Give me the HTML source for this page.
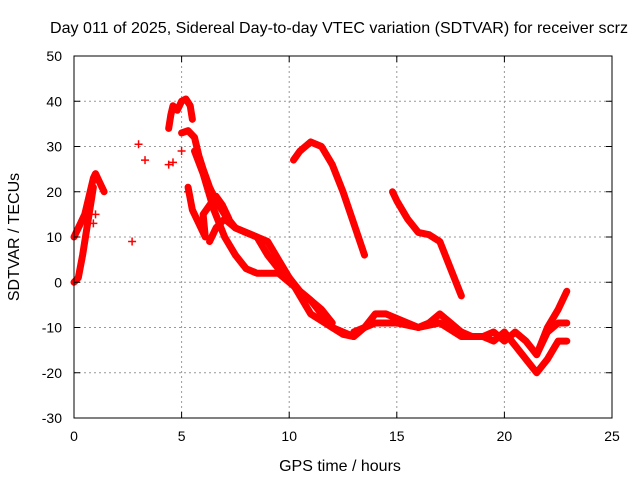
<!DOCTYPE html>
<html><head><meta charset="utf-8"><style>
body{margin:0;background:#fff;}
svg text{font-family:"Liberation Sans",sans-serif;font-size:14px;fill:#000;}
svg text.t{font-size:16px;}
</style></head><body>
<svg id="chart" width="640" height="480">
<rect width="640" height="480" fill="#fff"/>
<g id="grid"></g>
<g id="marks"></g>
<rect x="74" y="56" width="538" height="362" fill="none" stroke="#000" stroke-width="1"/>
<g id="ticks"></g>
<text class="t" x="339" y="33" text-anchor="middle" textLength="578" lengthAdjust="spacingAndGlyphs">Day 011 of 2025, Sidereal Day-to-day VTEC variation (SDTVAR) for receiver scrz</text>
<text class="t" x="340" y="471" text-anchor="middle">GPS time / hours</text>
<text class="t" transform="translate(19,237) rotate(-90)" text-anchor="middle">SDTVAR / TECUs</text>
</svg>
<script>
const xTicks=[0,5,10,15,20,25];
const yTicks=[-30,-20,-10,0,10,20,30,40,50];
const trackEarlyUpper=[[0,10],[0.2,12],[0.5,15],[0.7,19],[0.9,23],[1.0,24],[1.2,22],[1.4,20]];
const trackEarlyLower=[[0,0],[0.2,1],[0.4,6],[0.6,12],[0.8,18],[0.9,21]];
const isolated=[[2.7,9],[3.0,30.5],[3.3,27],[4.4,26],[4.6,26.5],[5.0,29],[0.9,13],[1.0,15],[5.3,20]];
const trackPeak=[[4.4,34],[4.5,37],[4.6,39],[4.8,38],[5.0,40],[5.2,40.5],[5.4,39],[5.5,36]];
const trackMain=[[5.0,33],[5.3,33.5],[5.6,32],[5.8,28],[6.0,25],[6.3,21],[6.6,18],[7.0,15],[7.5,12],[8.0,11],[8.5,10],[9,6],[9.5,3],[10,1],[10.5,-2],[11,-4],[11.5,-7],[12,-10],[12.5,-11.5],[13,-12],[13.5,-10],[14,-7],[14.5,-7],[15,-8],[15.5,-9],[16,-10],[16.5,-9],[17,-7],[17.5,-9],[18,-11],[18.5,-12],[19,-12],[19.5,-11],[20,-13],[20.5,-11],[21,-13],[21.5,-16],[22,-11],[22.5,-9],[22.9,-9]];
const trackBranch=[[5.3,21],[5.5,16],[5.8,13],[6.1,10],[6.0,15],[6.3,17],[6.6,19],[6.9,17],[7.2,14]];
const trackSecond=[[6.3,9],[6.6,12],[7.0,14],[7.5,12],[8,11],[8.5,10],[9,9],[9.5,5],[10,1],[11,-7],[12,-10],[13,-12]];
const trackThird=[[5.6,29],[6,24],[6.5,16],[7,10],[7.5,6],[8,3],[8.5,2],[9,2],[9.5,2],[10,0],[10.5,-2],[11,-4],[11.5,-6],[12,-9]];
const trackArc=[[10.2,27],[10.5,29],[11,31],[11.5,30],[12,26],[12.5,20],[13,13],[13.5,6]];
const trackDrop=[[14.8,20],[15,18],[15.5,14],[16,11],[16.5,10.5],[17,9],[17.5,3],[18,-3]];
const trackLow=[[13,-11],[14,-9],[15,-9],[16,-10],[17,-9],[18,-12],[19,-12],[19.5,-13],[20,-11],[20.5,-14],[21,-17],[21.5,-20],[22,-17],[22.5,-13],[22.9,-13]];
const trackRise=[[21.5,-16],[22,-10],[22.5,-6],[22.9,-2]];
const tracks=[trackEarlyUpper,trackEarlyLower,trackPeak,trackMain,trackBranch,trackSecond,trackThird,trackArc,trackDrop,trackLow,trackRise];

const X0=74,X1=612,Y0=418,Y1=56;
const xs=v=>X0+(v-0)/25*(X1-X0);
const ys=v=>Y0-(v+30)/80*(Y0-Y1);
const NS="http://www.w3.org/2000/svg";
function mk(t,a,p){const e=document.createElementNS(NS,t);for(const k in a)e.setAttribute(k,a[k]);p.appendChild(e);return e;}
const grid=document.getElementById('grid'),ticks=document.getElementById('ticks'),marks=document.getElementById('marks');
xTicks.forEach(t=>{const x=xs(t);
 if(t>0&&t<25){const g=mk('line',{x1:x,x2:x,y1:Y0,y2:Y1,stroke:'#999','stroke-dasharray':'2,3'},grid);
 
 }
 mk('line',{x1:x,x2:x,y1:Y0,y2:Y0-6,stroke:'#000'},ticks);mk('line',{x1:x,x2:x,y1:Y1,y2:Y1+6,stroke:'#000'},ticks);
 const l=mk('text',{x:x,y:Y0+23,'text-anchor':'middle'},ticks);l.textContent=t;
 
 });
yTicks.forEach(t=>{const y=ys(t);
 if(t>-30&&t<50){const g=mk('line',{x1:X0,x2:X1,y1:y,y2:y,stroke:'#999','stroke-dasharray':'2,3'},grid);
 
 }
 mk('line',{x1:X0,x2:X0+6,y1:y,y2:y,stroke:'#000'},ticks);mk('line',{x1:X1,x2:X1-6,y1:y,y2:y,stroke:'#000'},ticks);
 const l=mk('text',{x:X0-12,y:y+5,'text-anchor':'end'},ticks);l.textContent=t;
 
 });
tracks.forEach(tr=>{
 const pl=mk('polyline',{points:tr.map(p=>xs(p[0])+','+ys(p[1])).join(' '),fill:'none',stroke:'#f00','stroke-width':7,'stroke-linejoin':'round','stroke-linecap':'round'},marks);
 
 });
isolated.forEach(p=>{const x=xs(p[0]),y=ys(p[1]);
 const g=mk('path',{d:`M${x-4},${y}H${x+4}M${x},${y-4}V${y+4}`,stroke:'#f00','stroke-width':1.5},marks);
 
 });
</script>
</body></html>
